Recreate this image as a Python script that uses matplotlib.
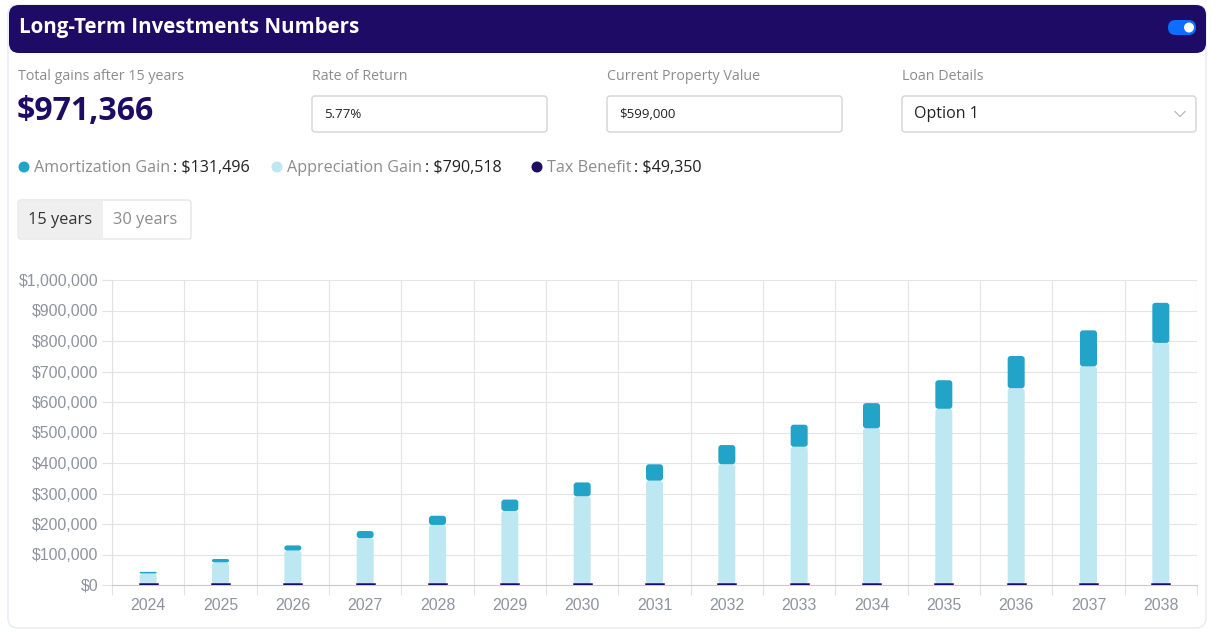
import matplotlib
matplotlib.use("Agg")
import matplotlib.pyplot as plt
import numpy as np
from matplotlib.patches import FancyBboxPatch, Rectangle, Circle

# ---- data ----
years = [str(y) for y in range(2024, 2039)]
tax_benefit = [3290] * 15
appreciation = [34600, 71100, 109700, 150500, 193700, 239400, 287700, 338800,
                392800, 450000, 510400, 574400, 642000, 713500, 790500]
amortization = [5200, 10800, 16800, 23200, 30100, 37400, 45300, 53700,
                62700, 72300, 82600, 93700, 105500, 118200, 131500]
yticks = list(range(0, 1000001, 100000))

total_gain = "$971,366"
legend_items = [("Amortization Gain", "$131,496", "#22a3c8", 24),
                ("Appreciation Gain", "$790,518", "#bde8f1", 277),
                ("Tax Benefit", "$49,350", "#1e0b62", 537)]

NAVY = "#1d0b66"
AMORT = "#22a3c8"
APPR = "#bde8f1"
TAX = "#1e0b62"
UI = ["Open Sans", "DejaVu Sans"]
CH = ["Liberation Sans", "DejaVu Sans"]

W, H = 1218, 632
fig = plt.figure(figsize=(W / 100, H / 100), dpi=100)
fig.patch.set_facecolor("white")

# pixel-space background axes for the card UI
bg = fig.add_axes([0, 0, 1, 1])
bg.set_xlim(0, W); bg.set_ylim(H, 0); bg.axis("off")

bg.add_patch(FancyBboxPatch((8, 5), 1198, 623, boxstyle="round,pad=0,rounding_size=10",
                            fc="white", ec="#e7e9f4", lw=1))
bg.add_patch(FancyBboxPatch((9, 5), 1197, 48, boxstyle="round,pad=0,rounding_size=10",
                            fc=NAVY, ec="none"))
bg.text(19, 28, "Long-Term Investments Numbers", color="white", fontsize=14.8,
        fontweight="bold", family=UI, va="center", ha="left")
# toggle
bg.add_patch(FancyBboxPatch((1168, 20), 28, 15, boxstyle="round,pad=0,rounding_size=7.5",
                            fc="#0d6efd", ec="none"))
bg.add_patch(Circle((1189, 27.5), 5, fc="white", ec="none"))

# stats row
bg.text(18, 76, "Total gains after 15 years", color="#8c8c8c", fontsize=10.3, family=UI,
        va="center")
bg.text(17, 111, total_gain, color=NAVY, fontsize=23, fontweight="bold", family=UI,
        va="center")

fields = [("Rate of Return", "5.77%", 312, 235, 9.5),
          ("Current Property Value", "$599,000", 607, 235, 9.5),
          ("Loan Details", "Option 1", 902, 294, 11.5)]
for lab, val, x0, w, fs in fields:
    bg.text(x0, 76, lab, color="#8c8c8c", fontsize=10.3, family=UI, va="center")
    bg.add_patch(FancyBboxPatch((x0, 96), w, 36, boxstyle="round,pad=0,rounding_size=3",
                                fc="white", ec="#cfcfcf", lw=0.9))
    bg.text(x0 + 12, 114, val, color="#222222", fontsize=fs, family=UI, va="center")
bg.plot([1175, 1180, 1185], [111.5, 116.5, 111.5], color="#b0b0b0", lw=0.8)

# legend row
fig.canvas.draw()
rend = fig.canvas.get_renderer()
inv = bg.transData.inverted()
for name, val, col, cx in legend_items:
    bg.add_patch(Circle((cx, 167), 5.5, fc=col, ec="none"))
    t = bg.text(cx + 10, 168, name, color="#8c8c8c", fontsize=11.6, family=UI, va="center")
    bb = t.get_window_extent(rend)
    xe = inv.transform((bb.x1, bb.y0))[0]
    bg.text(xe + 3, 168, ": " + val, color="#222222", fontsize=11.6, family=UI, va="center")

# tabs
bg.add_patch(FancyBboxPatch((18, 200), 173, 39, boxstyle="round,pad=0,rounding_size=3",
                            fc="white", ec="#e3e3e3", lw=0.9))
bg.add_patch(Rectangle((18.6, 200.6), 84, 37.8, fc="#efefef", ec="none"))
bg.text(28, 220, "15 years", color="#333333", fontsize=11.8, family=UI, va="center")
bg.text(113, 220, "30 years", color="#8c8c8c", fontsize=11.8, family=UI, va="center")

# ---- chart ----
ax_l, ax_r, ax_t, ax_b = 112, 1197, 280, 585
ax = fig.add_axes([ax_l / W, 1 - ax_b / H, (ax_r - ax_l) / W, (ax_b - ax_t) / H])
x = np.arange(len(years))
bw = 0.235
ax.set_xlim(-0.5, len(years) - 0.5)
ax.set_ylim(0, 1000000)

tb = ax.bar(x, tax_benefit, width=bw, color=TAX, ec=TAX, lw=1.8, zorder=5)
base2 = np.array(tax_benefit) + np.array(appreciation)
ab = ax.bar(x, appreciation, width=bw, bottom=tax_benefit, color=APPR, lw=0, zorder=3)
mb = ax.bar(x, amortization, width=bw, bottom=base2, color=AMORT, lw=0, zorder=4)

# round the bar corners like the web chart (about 3 px)
px_x = (ax_r - ax_l) / (len(years))          # px per x unit
px_y = (ax_b - ax_t) / 1000000               # px per y unit
aspect = (1 / px_y) / (1 / px_x)
for cont, col, z in ((ab, APPR, 3), (mb, AMORT, 4)):
    for r in cont.patches:
        h_px = r.get_height() * px_y
        rad = min(3.0, h_px / 2) / px_x
        r.set_visible(False)
        ax.add_patch(FancyBboxPatch((r.get_x(), r.get_y()), r.get_width(), r.get_height(),
                                    boxstyle=f"round,pad=0,rounding_size={rad}",
                                    mutation_aspect=aspect, fc=col, ec="none", zorder=z))

ax.set_yticks(yticks)
ax.set_yticklabels([f"${v:,.0f}" for v in yticks], family=CH, fontsize=11.4, color="#8e939e")
ax.set_xticks(x)
ax.set_xticklabels(years, family=CH, fontsize=11.4, color="#8e939e")
ax.set_xticks(np.arange(-0.5, len(years), 1), minor=True)
ax.tick_params(axis="x", which="major", length=0, pad=9)
ax.tick_params(axis="x", which="minor", length=7, color="#e2e2e2", width=0.8)
ax.tick_params(axis="y", length=7, color="#e2e2e2", width=0.8, pad=3)
ax.grid(axis="y", which="major", color="#e4e4e4", lw=0.8, zorder=0)
ax.grid(axis="x", which="minor", color="#e4e4e4", lw=0.8, zorder=0)
for s in ("top", "right"):
    ax.spines[s].set_visible(False)
ax.spines["left"].set_color("#e2e2e2")
ax.spines["bottom"].set_color("#c9c9c9")
ax.set_facecolor("none")

fig.savefig("out.png", dpi=100, facecolor="white")
